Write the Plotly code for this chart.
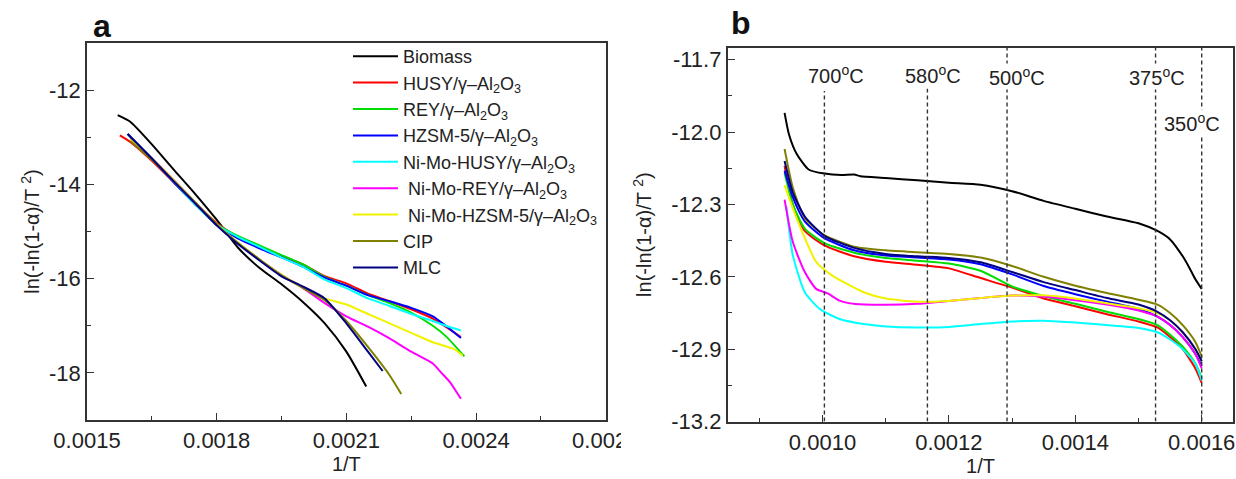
import plotly.graph_objects as go

# ---------------- series metadata ----------------
series_names = [
    "Biomass",
    "HUSY/γ–Al<sub>2</sub>O<sub>3</sub>",
    "REY/γ–Al<sub>2</sub>O<sub>3</sub>",
    "HZSM-5/γ–Al<sub>2</sub>O<sub>3</sub>",
    "Ni-Mo-HUSY/γ–Al<sub>2</sub>O<sub>3</sub>",
    " Ni-Mo-REY/γ–Al<sub>2</sub>O<sub>3</sub>",
    " Ni-Mo-HZSM-5/γ–Al<sub>2</sub>O<sub>3</sub>",
    "CIP",
    "MLC",
]
series_colors = ["#000000", "#ff0000", "#00dd00", "#0000ff", "#00ffff",
                 "#ff00ff", "#f2f200", "#808000", "#000080"]

# ---------------- panel a data ----------------
a_biomass_x = [0.001571, 0.00160, 0.00165, 0.00170, 0.00175, 0.00180, 0.00185, 0.00190, 0.00195, 0.00200, 0.00205, 0.00210, 0.002146]
a_biomass_y = [-12.53, -12.67, -13.15, -13.68, -14.2, -14.75, -15.35, -15.78, -16.12, -16.5, -16.95, -17.55, -18.29]

a_husy_x = [0.001576, 0.00160, 0.00165, 0.00170, 0.00175, 0.00180, 0.00185, 0.00190, 0.00195, 0.00200, 0.00205, 0.00210, 0.00215, 0.00220, 0.00225, 0.00230, 0.002365]
a_husy_y = [-12.96, -13.1, -13.5, -13.95, -14.4, -14.82, -15.12, -15.32, -15.52, -15.7, -15.95, -16.1, -16.32, -16.48, -16.65, -16.85, -17.24]

a_rey_x = [0.00160, 0.00165, 0.00170, 0.00175, 0.00180, 0.00185, 0.00190, 0.00195, 0.00200, 0.00205, 0.00210, 0.00215, 0.00220, 0.00225, 0.00230, 0.00233, 0.002373]
a_rey_y = [-13.02, -13.45, -13.92, -14.4, -14.84, -15.1, -15.3, -15.5, -15.7, -15.97, -16.15, -16.35, -16.52, -16.72, -17.0, -17.22, -17.65]

a_hzsm_x = [0.001594, 0.00165, 0.00170, 0.00175, 0.00180, 0.00185, 0.00190, 0.00195, 0.00200, 0.00205, 0.00210, 0.00215, 0.00220, 0.00225, 0.00230, 0.00233, 0.002365]
a_hzsm_y = [-12.93, -13.45, -13.95, -14.42, -14.86, -15.15, -15.36, -15.55, -15.75, -15.98, -16.15, -16.35, -16.48, -16.62, -16.8, -17.0, -17.26]

a_nmhusy_x = [0.00160, 0.00165, 0.00170, 0.00175, 0.00180, 0.00185, 0.00190, 0.00195, 0.00200, 0.00205, 0.00210, 0.00215, 0.00220, 0.00225, 0.00230, 0.00233, 0.002365]
a_nmhusy_y = [-13.05, -13.45, -13.93, -14.42, -14.85, -15.12, -15.33, -15.55, -15.75, -16.02, -16.2, -16.42, -16.58, -16.75, -16.9, -17.0, -17.1]

a_nmrey_x = [0.00160, 0.00165, 0.00170, 0.00175, 0.00180, 0.00185, 0.00190, 0.00195, 0.00200, 0.00205, 0.00210, 0.00215, 0.00220, 0.00225, 0.00230, 0.00232, 0.00234, 0.002365]
a_nmrey_y = [-13.05, -13.45, -13.9, -14.38, -14.86, -15.25, -15.6, -15.92, -16.2, -16.52, -16.8, -17.02, -17.27, -17.55, -17.8, -18.0, -18.2, -18.55]

a_nmhzsm_x = [0.00160, 0.00165, 0.00170, 0.00175, 0.00180, 0.00185, 0.00190, 0.00195, 0.00200, 0.00205, 0.00210, 0.00215, 0.00220, 0.00225, 0.00230, 0.00235, 0.002369]
a_nmhzsm_y = [-13.05, -13.45, -13.9, -14.38, -14.85, -15.24, -15.6, -15.92, -16.18, -16.42, -16.55, -16.75, -16.95, -17.15, -17.35, -17.5, -17.63]

a_cip_x = [0.00160, 0.00165, 0.00170, 0.00175, 0.00180, 0.00185, 0.00190, 0.00195, 0.00200, 0.00205, 0.00210, 0.00215, 0.00220, 0.002227]
a_cip_y = [-13.08, -13.48, -13.92, -14.38, -14.85, -15.25, -15.6, -15.93, -16.2, -16.46, -16.9, -17.45, -18.05, -18.45]

a_mlc_x = [0.001594, 0.00165, 0.00170, 0.00175, 0.00180, 0.00185, 0.00190, 0.00195, 0.00200, 0.00205, 0.00210, 0.00215, 0.002184]
a_mlc_y = [-12.93, -13.45, -13.93, -14.4, -14.87, -15.27, -15.62, -15.95, -16.17, -16.42, -16.95, -17.55, -17.96]

# ---------------- panel b data ----------------
b_biomass_x = [0.00094, 0.000947, 0.000959, 0.000978, 0.001003, 0.00103, 0.00105, 0.00106, 0.0011, 0.00115, 0.0012, 0.00125, 0.0013, 0.00135, 0.0014, 0.00145, 0.0015, 0.00153, 0.00155, 0.00157, 0.00158, 0.00159, 0.0016]
b_biomass_y = [-11.92, -12.01, -12.09, -12.155, -12.172, -12.178, -12.176, -12.183, -12.19, -12.2, -12.21, -12.218, -12.245, -12.285, -12.318, -12.35, -12.378, -12.41, -12.445, -12.515, -12.56, -12.61, -12.65]

b_common_x = [0.00094, 0.000953, 0.000972, 0.001003, 0.00105, 0.0011, 0.00115, 0.0012, 0.00125, 0.0013, 0.00135, 0.0014, 0.00145, 0.0015, 0.00153, 0.00155, 0.00157, 0.00159, 0.0016]
b_husy_y = [-12.14, -12.3, -12.41, -12.47, -12.515, -12.538, -12.55, -12.565, -12.605, -12.645, -12.69, -12.722, -12.755, -12.785, -12.81, -12.85, -12.9, -12.98, -13.04]
b_rey_y = [-12.17, -12.3, -12.4, -12.46, -12.5, -12.522, -12.533, -12.545, -12.575, -12.64, -12.68, -12.712, -12.745, -12.775, -12.8, -12.84, -12.89, -12.96, -13.02]
b_hzsm_y = [-12.16, -12.27, -12.37, -12.44, -12.49, -12.512, -12.52, -12.528, -12.548, -12.59, -12.638, -12.672, -12.703, -12.733, -12.765, -12.8, -12.85, -12.92, -12.97]
b_cip_y = [-12.07, -12.23, -12.357, -12.427, -12.475, -12.49, -12.498, -12.505, -12.52, -12.555, -12.6, -12.637, -12.667, -12.695, -12.715, -12.75, -12.8, -12.87, -12.93]
b_mlc_y = [-12.12, -12.25, -12.35, -12.43, -12.48, -12.505, -12.515, -12.522, -12.54, -12.58, -12.622, -12.655, -12.688, -12.715, -12.745, -12.78, -12.83, -12.9, -12.95]

b_nmhusy_x = [0.000943, 0.000953, 0.000972, 0.000996, 0.001027, 0.001065, 0.0011, 0.00115, 0.0012, 0.00125, 0.0013, 0.00135, 0.0014, 0.00145, 0.0015, 0.00153, 0.00155, 0.00157, 0.00159, 0.0016]
b_nmhusy_y = [-12.31, -12.51, -12.664, -12.734, -12.775, -12.796, -12.806, -12.81, -12.808, -12.796, -12.785, -12.782, -12.79, -12.8, -12.812, -12.83, -12.86, -12.9, -12.96, -13.03]

b_nmrey_x = [0.00094, 0.000953, 0.000972, 0.00099, 0.001009, 0.001027, 0.001052, 0.0011, 0.00115, 0.0012, 0.00125, 0.0013, 0.00135, 0.0014, 0.00145, 0.0015, 0.00153, 0.00155, 0.00157, 0.00159, 0.0016]
b_nmrey_y = [-12.28, -12.455, -12.58, -12.65, -12.67, -12.699, -12.713, -12.716, -12.712, -12.7, -12.688, -12.678, -12.682, -12.697, -12.715, -12.74, -12.765, -12.8, -12.85, -12.92, -12.98]

b_nmhzsm_x = [0.00094, 0.000959, 0.00099, 0.001015, 0.001065, 0.0011, 0.00115, 0.0012, 0.00125, 0.0013, 0.00135, 0.0014, 0.00145, 0.0015, 0.00153, 0.00155, 0.00157, 0.00159, 0.0016]
b_nmhzsm_y = [-12.22, -12.357, -12.538, -12.594, -12.664, -12.69, -12.703, -12.7, -12.688, -12.678, -12.677, -12.69, -12.71, -12.73, -12.75, -12.78, -12.83, -12.9, -12.95]

# temperature markers (panel b)
temp_labels = ["700<sup>o</sup>C", "580<sup>o</sup>C", "500<sup>o</sup>C", "375<sup>o</sup>C", "350<sup>o</sup>C"]
temp_x = [0.001003, 0.001166, 0.001292, 0.001527, 0.0016]
temp_line_top = [-11.83, -11.82, -11.65, -11.65, -11.65]
temp_label_x = [0.001021, 0.001175, 0.001307, 0.001530, 0.001584]
temp_label_y = [-11.76, -11.76, -11.77, -11.77, -11.96]

# tick labels
a_xticks = [0.0015, 0.0018, 0.0021, 0.0024, 0.0027]
a_xticktext = ["0.0015", "0.0018", "0.0021", "0.0024", "0.0027"]
a_yticks = [-12, -14, -16, -18]
a_yticktext = ["-12", "-14", "-16", "-18"]
b_xticks = [0.0010, 0.0012, 0.0014, 0.0016]
b_xticktext = ["0.0010", "0.0012", "0.0014", "0.0016"]
b_yticks = [-11.7, -12.0, -12.3, -12.6, -12.9, -13.2]
b_yticktext = ["-11.7", "-12.0", "-12.3", "-12.6", "-12.9", "-13.2"]

panel_a = [(a_biomass_x, a_biomass_y), (a_husy_x, a_husy_y), (a_rey_x, a_rey_y),
           (a_hzsm_x, a_hzsm_y), (a_nmhusy_x, a_nmhusy_y), (a_nmrey_x, a_nmrey_y),
           (a_nmhzsm_x, a_nmhzsm_y), (a_cip_x, a_cip_y), (a_mlc_x, a_mlc_y)]
panel_b = [(b_biomass_x, b_biomass_y), (b_common_x, b_husy_y), (b_common_x, b_rey_y),
           (b_common_x, b_hzsm_y), (b_nmhusy_x, b_nmhusy_y), (b_nmrey_x, b_nmrey_y),
           (b_nmhzsm_x, b_nmhzsm_y), (b_common_x, b_cip_y), (b_common_x, b_mlc_y)]

FONT = "Liberation Sans, Arial, Helvetica, sans-serif"
TXT = "#222222"

fig = go.Figure()
for i, (xs, ys) in enumerate(panel_a):
    fig.add_trace(go.Scatter(x=xs, y=ys, mode="lines", name=series_names[i],
                             line=dict(color=series_colors[i], width=2, shape="spline", smoothing=0.6),
                             xaxis="x", yaxis="y", showlegend=True))
for i, (xs, ys) in enumerate(panel_b):
    fig.add_trace(go.Scatter(x=xs, y=ys, mode="lines", name=series_names[i],
                             line=dict(color=series_colors[i], width=2, shape="spline", smoothing=0.6),
                             xaxis="x2", yaxis="y2", showlegend=False))

W, H = 1236, 479
ax_common = dict(showline=True, mirror=True, linecolor="#333333", linewidth=1.7,
                 showgrid=False, zeroline=False, ticks="inside", ticklen=7, tickwidth=1.3,
                 tickcolor="#333333", automargin=False,
                 tickfont=dict(family=FONT, size=22, color=TXT))

fig.update_layout(
    width=W, height=H, margin=dict(l=0, r=0, t=0, b=0),
    paper_bgcolor="white", plot_bgcolor="white",
    font=dict(family=FONT, color=TXT),
    xaxis=dict(ax_common, domain=[87 / W, 605.7 / W], range=[0.0015, 0.0027],
               tickvals=a_xticks, ticktext=a_xticktext,
               minor=dict(ticks="inside", ticklen=4, dtick=0.00015, tick0=0.0015, tickcolor="#333333"),
               title=dict(text="1/T", font=dict(size=20, family=FONT, color=TXT), standoff=3)),
    yaxis=dict(ax_common, domain=[1 - 420 / H, 1 - 43 / H], range=[-19, -11],
               tickvals=a_yticks, ticktext=a_yticktext,
               minor=dict(ticks="inside", ticklen=4, dtick=1, tick0=-11, tickcolor="#333333"),
               title=dict(text="ln(-ln(1-α)/T <sup>2</sup>)", font=dict(size=20, family=FONT, color=TXT), standoff=4)),
    xaxis2=dict(ax_common, domain=[727.7 / W, 1233.3 / W], range=[0.00085, 0.00165],
                tickvals=b_xticks, ticktext=b_xticktext, anchor="y2",
                minor=dict(ticks="inside", ticklen=4, dtick=0.0001, tick0=0.0009, tickcolor="#333333"),
                title=dict(text="1/T", font=dict(size=20, family=FONT, color=TXT), standoff=3)),
    yaxis2=dict(ax_common, domain=[1 - 421.5 / H, 1 - 47.7 / H], range=[-13.2, -11.65],
                tickvals=b_yticks, ticktext=b_yticktext, anchor="x2",
                minor=dict(ticks="inside", ticklen=4, dtick=0.15, tick0=-11.7, tickcolor="#333333"),
                title=dict(text="ln(-ln(1-α)/T <sup>2</sup>)", font=dict(size=20, family=FONT, color=TXT), standoff=14)),
    legend=dict(x=348 / W, y=1 - 38 / H, xanchor="left", yanchor="top",
                bgcolor="rgba(0,0,0,0)", borderwidth=0, itemwidth=45,
                font=dict(family=FONT, size=18, color=TXT), tracegroupgap=0),
    showlegend=True,
)

# dashed temperature markers
for tx, ttop in zip(temp_x, temp_line_top):
    fig.add_shape(type="line", xref="x2", yref="y2", x0=tx, x1=tx, y0=-13.2, y1=ttop,
                  line=dict(color="#333333", width=1.4, dash="4px,3px"), layer="above")
for lab, lx, ly in zip(temp_labels, temp_label_x, temp_label_y):
    fig.add_annotation(xref="x2", yref="y2", x=lx, y=ly, text=lab, showarrow=False,
                       font=dict(family=FONT, size=20, color=TXT), bgcolor="white", borderpad=0)

# mask that crops the last tick label of panel a like the reference
fig.add_shape(type="rect", xref="paper", yref="paper", x0=621 / W, x1=664 / W,
              y0=1 - 464 / H, y1=1 - 424 / H, fillcolor="white", line=dict(width=0), layer="above")

# panel letters
fig.add_annotation(xref="paper", yref="paper", x=102 / W, y=1 - 26 / H, text="<b>a</b>",
                   xanchor="center", yanchor="middle",
                   showarrow=False, font=dict(family=FONT, size=32, color="#111111"))
fig.add_annotation(xref="paper", yref="paper", x=741 / W, y=1 - 23 / H, text="<b>b</b>",
                   xanchor="center", yanchor="middle",
                   showarrow=False, font=dict(family=FONT, size=32, color="#111111"))

fig.write_html("out.html")
